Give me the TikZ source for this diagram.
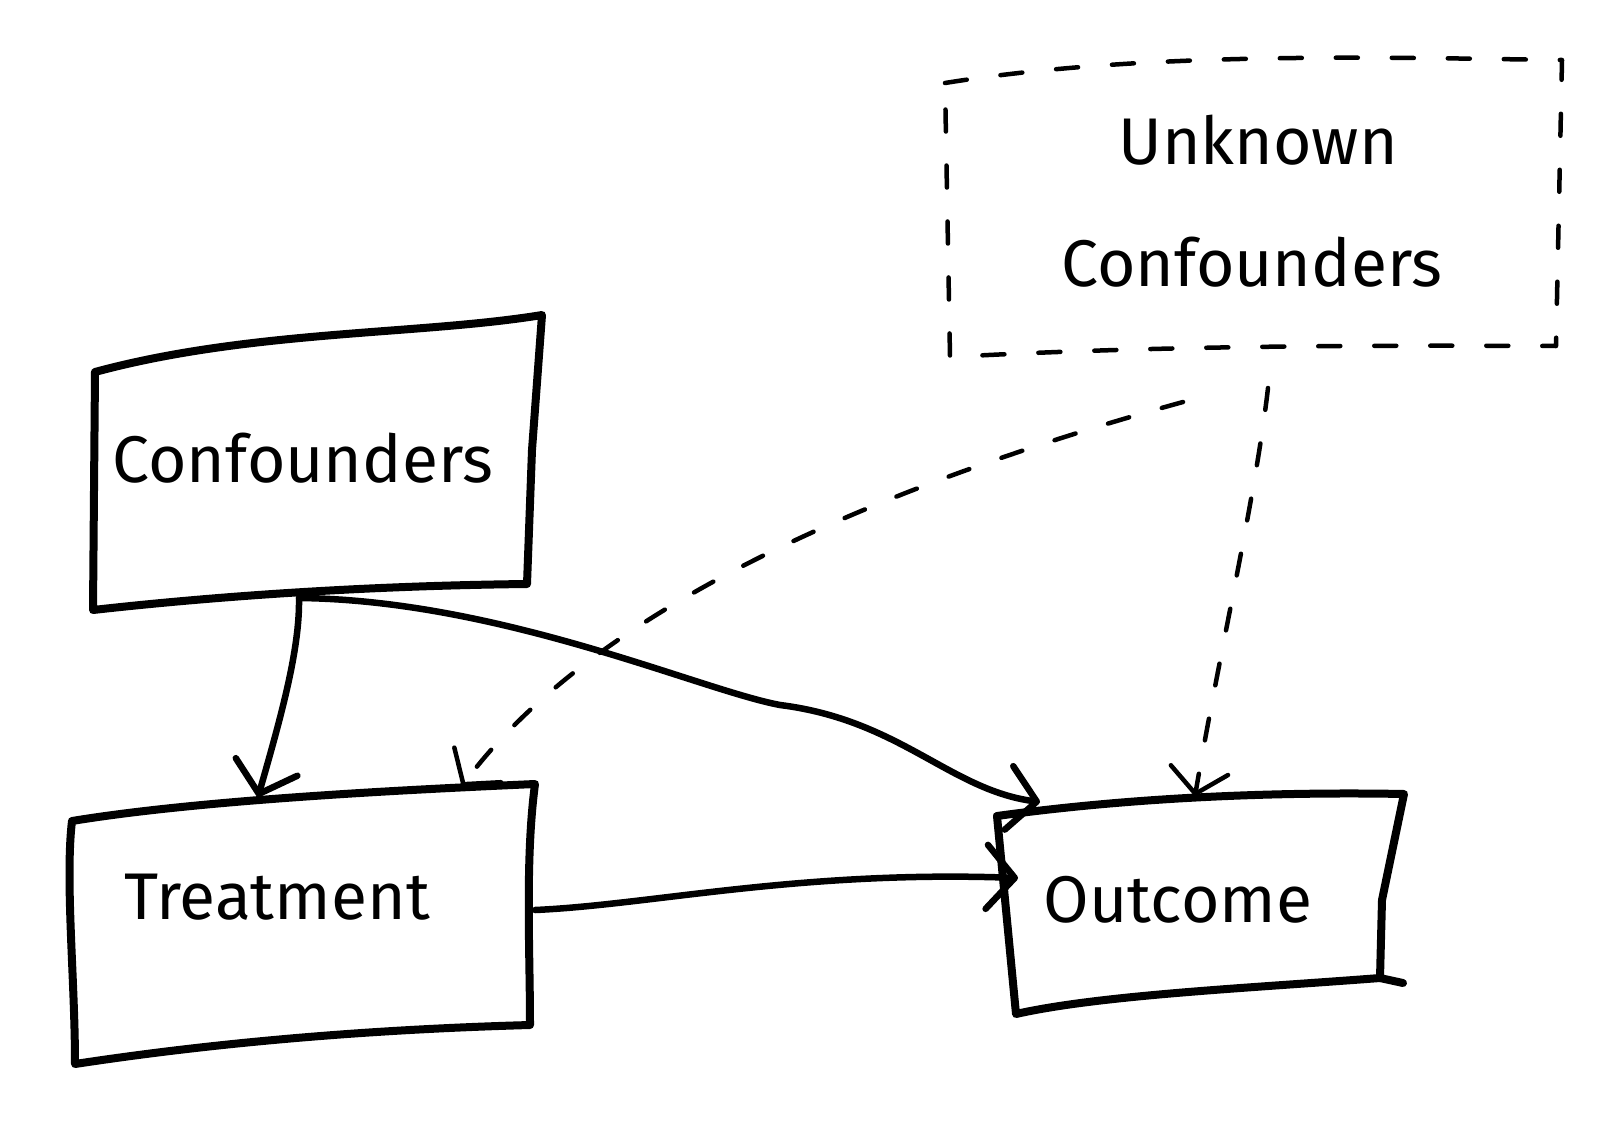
\documentclass[tikz,border=0pt]{standalone}
\usepackage{fontspec}
\setmainfont{Fira Sans}
\usetikzlibrary{arrows.meta}
\begin{document}
\begin{tikzpicture}[x=1pt,y=-1pt,
  ink/.style={line width=6.5pt,line cap=round,line join=round,black},
  boxline/.style={ink,line width=8pt},
  dashline/.style={ink,line width=4.5pt,dash pattern=on 22pt off 34pt},
  lbl/.style={font=\fontsize{66}{70}\selectfont},
  arr/.style={ink,-{Straight Barb[length=28pt,width=64pt,line width=0pt 1,round]}},
  darr/.style={dashline,-{Straight Barb[length=24pt,width=58pt,line width=0pt 1,round]}}]
\useasboundingbox (0,0) rectangle (1620,1124);
\fill[white] (0,0) rectangle (1620,1124);
% Confounders box
\coordinate (c1) at (95,372);
\coordinate (c2) at (542,315);
\coordinate (c3) at (527,584);
\coordinate (c4) at (93,610);
\draw[boxline] (c1) .. controls (250,330) and (420,335) .. (c2) -- (532,450) -- (c3) .. controls (350,586) and (200,598) .. (c4) -- cycle;
\node[lbl] (conf) at (303,458) {Confounders};
% Treatment box
\coordinate (t1) at (72,821);
\coordinate (t2) at (535,784);
\coordinate (t3) at (530,1025);
\coordinate (t4) at (75,1064);
\draw[boxline] (t1) .. controls (200,800) and (400,790) .. (t2) .. controls (525,860) and (530,950) .. (t3) .. controls (350,1030) and (200,1045) .. (t4) .. controls (75,980) and (65,880) .. cycle;
\node[lbl] (treat) at (277,897) {Treatment};
% Outcome box
\coordinate (o1) at (997,816);
\coordinate (o2) at (1404,794);
\coordinate (o3) at (1403,983);
\coordinate (o4) at (1016,1014);
\draw[boxline] (o1) .. controls (1150,795) and (1300,792) .. (o2) -- (1382,900) -- (1380,978) -- (o3);
\draw[boxline] (1380,978) .. controls (1250,988) and (1100,995) .. (o4) -- (o1);
\node[lbl] (outc) at (1178,900) {Outcome};
% Unknown confounders dashed box
\coordinate (u1) at (945,83);
\coordinate (u2) at (1562,60);
\coordinate (u3) at (1556,346);
\coordinate (u4) at (950,357);
\draw[dashline] (u1) .. controls (1150,50) and (1400,58) .. (u2) -- (u3) .. controls (1350,345) and (1150,346) .. (u4) -- cycle;
\node[lbl] (unk1) at (1258,140) {Unknown};
\node[lbl] (unk2) at (1252,262) {Confounders};
% connectors
\coordinate (cb) at (299,598);
\coordinate (tt) at (258,797);
\coordinate (tt2) at (462,786);
\coordinate (ot) at (1040,802);
\coordinate (ot2) at (1195,796);
\coordinate (tr) at (535,910);
\coordinate (ol) at (1018,878);
\coordinate (ub) at (1183,402);
\coordinate (ub2) at (1268,388);
\draw[arr] (cb) .. controls (300,650) and (280,720) .. (tt);
\draw[arr] (cb) .. controls (500,600) and (700,690) .. (780,705) .. controls (900,720) and (950,790) .. (ot);
\draw[arr] (tr) .. controls (650,905) and (800,870) .. (ol);
\draw[darr] (ub) .. controls (900,480) and (600,600) .. (tt2);
\draw[darr] (ub2) .. controls (1255,500) and (1220,650) .. (ot2);
\end{tikzpicture}
\end{document}
